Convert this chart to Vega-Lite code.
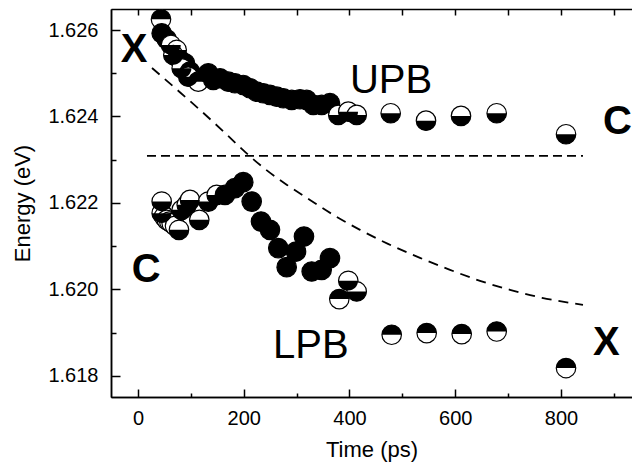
{
  "$schema": "https://vega.github.io/schema/vega-lite/v6.json",
  "width": 521,
  "height": 388,
  "autosize": {"type": "none"},
  "padding": {"left": 111, "top": 9, "right": 0, "bottom": 73},
  "background": "white",
  "config": {
    "view": {"stroke": null},
    "font": "Liberation Sans",
    "axis": {
      "domainColor": "black", "domainWidth": 1.5, "tickColor": "black", "tickWidth": 1.5,
      "labelColor": "black", "titleColor": "black", "labelFont": "Liberation Sans", "titleFont": "Liberation Sans",
      "labelFontSize": 20, "titleFontSize": 22, "titleFontWeight": "normal", "grid": false
    }
  },
  "datasets": {
    "curve": [
      {"t": 26.5, "E": 1.625121}, {"t": 70.0, "E": 1.624659}, {"t": 117.3, "E": 1.62415}, {"t": 164.5, "E": 1.623619},
      {"t": 202.4, "E": 1.623179}, {"t": 240.2, "E": 1.622786}, {"t": 281.8, "E": 1.622416}, {"t": 325.3, "E": 1.622069},
      {"t": 372.6, "E": 1.621699}, {"t": 419.9, "E": 1.621376}, {"t": 472.8, "E": 1.621052}, {"t": 533.3, "E": 1.620728},
      {"t": 590.1, "E": 1.620451}, {"t": 646.8, "E": 1.620197}, {"t": 703.5, "E": 1.619988}, {"t": 764.1, "E": 1.619803},
      {"t": 841.6, "E": 1.619642}
    ],
    "hline": [{"t": 17, "E": 1.623087}, {"t": 841.6, "E": 1.623087}],
    "pts": [
      {"t": 43.5, "E": 1.626247, "k": "U"}, {"t": 44.8, "E": 1.625924, "k": "F"}, {"t": 54.3, "E": 1.625785, "k": "F"},
      {"t": 62.4, "E": 1.625653, "k": "L"}, {"t": 73.2, "E": 1.625538, "k": "L"}, {"t": 66.8, "E": 1.625422, "k": "L"},
      {"t": 79.4, "E": 1.625306, "k": "F"}, {"t": 88.9, "E": 1.62523, "k": "F"}, {"t": 82.6, "E": 1.625114, "k": "L"},
      {"t": 98.3, "E": 1.625036, "k": "F"}, {"t": 95.1, "E": 1.62492, "k": "L"}, {"t": 114, "E": 1.624805, "k": "U"},
      {"t": 133, "E": 1.624999, "k": "F"}, {"t": 142.4, "E": 1.624844, "k": "F"}, {"t": 155.1, "E": 1.624883, "k": "F"},
      {"t": 170.8, "E": 1.624805, "k": "F"}, {"t": 183.4, "E": 1.624768, "k": "F"}, {"t": 199.1, "E": 1.624728, "k": "F"},
      {"t": 211.8, "E": 1.624652, "k": "F"}, {"t": 224.5, "E": 1.624573, "k": "F"}, {"t": 237, "E": 1.624536, "k": "F"},
      {"t": 249.6, "E": 1.624497, "k": "F"}, {"t": 262.3, "E": 1.624458, "k": "F"}, {"t": 274.8, "E": 1.624421, "k": "F"},
      {"t": 290.7, "E": 1.624382, "k": "F"}, {"t": 306.4, "E": 1.624398, "k": "F"}, {"t": 319, "E": 1.624382, "k": "F"},
      {"t": 331.5, "E": 1.624266, "k": "F"}, {"t": 347.4, "E": 1.624266, "k": "F"}, {"t": 363.1, "E": 1.624306, "k": "F"},
      {"t": 378.8, "E": 1.624035, "k": "L"}, {"t": 397.7, "E": 1.624111, "k": "L"}, {"t": 413.6, "E": 1.624035, "k": "L"},
      {"t": 477.9, "E": 1.624074, "k": "L"}, {"t": 544.7, "E": 1.623903, "k": "L"}, {"t": 610.9, "E": 1.624012, "k": "L"},
      {"t": 678.4, "E": 1.624074, "k": "L"}, {"t": 809.5, "E": 1.623588, "k": "L"},
      {"t": 44.8, "E": 1.62203, "k": "L"}, {"t": 44.8, "E": 1.621762, "k": "L"}, {"t": 49.2, "E": 1.621683, "k": "O"},
      {"t": 54.3, "E": 1.621607, "k": "O"}, {"t": 59.2, "E": 1.621568, "k": "O"}, {"t": 63.7, "E": 1.621531, "k": "O"},
      {"t": 70, "E": 1.621468, "k": "O"}, {"t": 77.5, "E": 1.621376, "k": "L"}, {"t": 82.6, "E": 1.621838, "k": "L"},
      {"t": 92.1, "E": 1.621954, "k": "L"}, {"t": 98.3, "E": 1.622069, "k": "L"}, {"t": 115.9, "E": 1.621607, "k": "L"},
      {"t": 132.9, "E": 1.62203, "k": "L"}, {"t": 148.8, "E": 1.622185, "k": "L"}, {"t": 164.5, "E": 1.622185, "k": "F"},
      {"t": 183.4, "E": 1.62234, "k": "F"}, {"t": 199.1, "E": 1.622479, "k": "F"}, {"t": 215, "E": 1.62203, "k": "F"},
      {"t": 232.6, "E": 1.621568, "k": "F"}, {"t": 249.6, "E": 1.621376, "k": "F"}, {"t": 265.3, "E": 1.620953, "k": "F"},
      {"t": 281.2, "E": 1.620513, "k": "F"}, {"t": 298.8, "E": 1.620874, "k": "F"}, {"t": 313.9, "E": 1.621221, "k": "F"},
      {"t": 328.5, "E": 1.620412, "k": "F"}, {"t": 347.4, "E": 1.620451, "k": "F"}, {"t": 363.1, "E": 1.620721, "k": "F"},
      {"t": 397.7, "E": 1.620197, "k": "L"}, {"t": 413.6, "E": 1.61995, "k": "L"}, {"t": 380.7, "E": 1.619773, "k": "U"},
      {"t": 479.8, "E": 1.618948, "k": "U"}, {"t": 546, "E": 1.618987, "k": "U"}, {"t": 612.2, "E": 1.618964, "k": "U"},
      {"t": 678.4, "E": 1.619024, "k": "U"}, {"t": 809.5, "E": 1.618178, "k": "U"}
    ],
    "bold": [
      {"t": -32.7, "E": 1.625267, "s": "X"}, {"t": 879.4, "E": 1.623595, "s": "C"},
      {"t": -11.9, "E": 1.620162, "s": "C"}, {"t": 860.5, "E": 1.618486, "s": "X"}
    ],
    "plain": [
      {"t": 400.9, "E": 1.624543, "s": "UPB"}, {"t": 255.3, "E": 1.618416, "s": "LPB"}
    ]
  },
  "layer": [
    {
      "data": {"name": "curve"},
      "mark": {"type": "line", "color": "black", "strokeWidth": 1.8, "strokeDash": [10, 7], "interpolate": "monotone"},
      "encoding": {
        "x": {"field": "t", "type": "quantitative", "scale": {"domain": [-51.06, 934.3], "nice": false, "zero": false},
              "axis": {"orient": "bottom", "values": [0, 200, 400, 600, 800], "format": "d", "tickSize": -8, "labelPadding": 19, "title": "Time (ps)", "titlePadding": 11}},
        "y": {"field": "E", "type": "quantitative", "scale": {"domain": [1.617508, 1.626486], "nice": false, "zero": false},
              "axis": {"orient": "left", "values": [1.618, 1.62, 1.622, 1.624, 1.626], "format": ".3f", "tickSize": -9, "labelPadding": 22, "title": "Energy (eV)", "titlePadding": 13}}
      }
    },
    {
      "data": {"name": "hline"},
      "mark": {"type": "line", "color": "black", "strokeWidth": 1.8, "strokeDash": [9, 5]},
      "encoding": {
        "x": {"field": "t", "type": "quantitative", "scale": {"domain": [-51.06, 934.3], "nice": false, "zero": false},
              "axis": {"orient": "top", "values": [0, 100, 200, 300, 400, 500, 600, 700, 800, 900], "labels": false, "tickSize": -6, "title": null}},
        "y": {"field": "E", "type": "quantitative", "scale": {"domain": [1.617508, 1.626486], "nice": false, "zero": false},
              "axis": {"orient": "left", "values": [1.619, 1.621, 1.623, 1.625], "labels": false, "tickSize": -5, "title": null}}
      }
    },
    {
      "data": {"name": "pts"},
      "mark": {"type": "point", "shape": "circle", "filled": true, "size": 380, "stroke": "black", "strokeWidth": 1.2, "opacity": 1},
      "encoding": {
        "x": {"field": "t", "type": "quantitative", "scale": {"domain": [-51.06, 934.3], "nice": false, "zero": false},
              "axis": {"orient": "bottom", "values": [100, 300, 500, 700, 900], "labels": false, "tickSize": -4, "title": null}},
        "y": {"field": "E", "type": "quantitative", "scale": {"domain": [1.617508, 1.626486], "nice": false, "zero": false}, "axis": null},
        "fill": {"condition": {"test": "datum.k === 'F'", "value": "black"}, "value": "white"}
      }
    },
    {
      "data": {"name": "pts"},
      "transform": [{"filter": "datum.k === 'L'"}],
      "mark": {"type": "point", "shape": "M -1 0 C -1 0.552 -0.552 1 0 1 C 0.552 1 1 0.552 1 0 Z", "filled": true, "size": 380, "color": "black", "strokeWidth": 0, "opacity": 1},
      "encoding": {
        "x": {"field": "t", "type": "quantitative", "scale": {"domain": [-51.06, 934.3], "nice": false, "zero": false}, "axis": null},
        "y": {"field": "E", "type": "quantitative", "scale": {"domain": [1.617508, 1.626486], "nice": false, "zero": false}, "axis": null}
      }
    },
    {
      "data": {"name": "pts"},
      "transform": [{"filter": "datum.k === 'U'"}],
      "mark": {"type": "point", "shape": "M -1 0 C -1 -0.552 -0.552 -1 0 -1 C 0.552 -1 1 -0.552 1 0 Z", "filled": true, "size": 380, "color": "black", "strokeWidth": 0, "opacity": 1},
      "encoding": {
        "x": {"field": "t", "type": "quantitative", "scale": {"domain": [-51.06, 934.3], "nice": false, "zero": false}, "axis": null},
        "y": {"field": "E", "type": "quantitative", "scale": {"domain": [1.617508, 1.626486], "nice": false, "zero": false}, "axis": null}
      }
    },
    {
      "data": {"name": "bold"},
      "mark": {"type": "text", "font": "Liberation Sans", "fontSize": 40, "fontWeight": "bold", "align": "left", "baseline": "alphabetic", "color": "black"},
      "encoding": {
        "x": {"field": "t", "type": "quantitative", "scale": {"domain": [-51.06, 934.3], "nice": false, "zero": false}, "axis": null},
        "y": {"field": "E", "type": "quantitative", "scale": {"domain": [1.617508, 1.626486], "nice": false, "zero": false}, "axis": null},
        "text": {"field": "s"}
      }
    },
    {
      "data": {"name": "plain"},
      "mark": {"type": "text", "font": "Liberation Sans", "fontSize": 40, "align": "left", "baseline": "alphabetic", "color": "black"},
      "encoding": {
        "x": {"field": "t", "type": "quantitative", "scale": {"domain": [-51.06, 934.3], "nice": false, "zero": false}, "axis": null},
        "y": {"field": "E", "type": "quantitative", "scale": {"domain": [1.617508, 1.626486], "nice": false, "zero": false}, "axis": null},
        "text": {"field": "s"}
      }
    }
  ],
  "resolve": {"axis": {"x": "independent", "y": "independent"}}
}
